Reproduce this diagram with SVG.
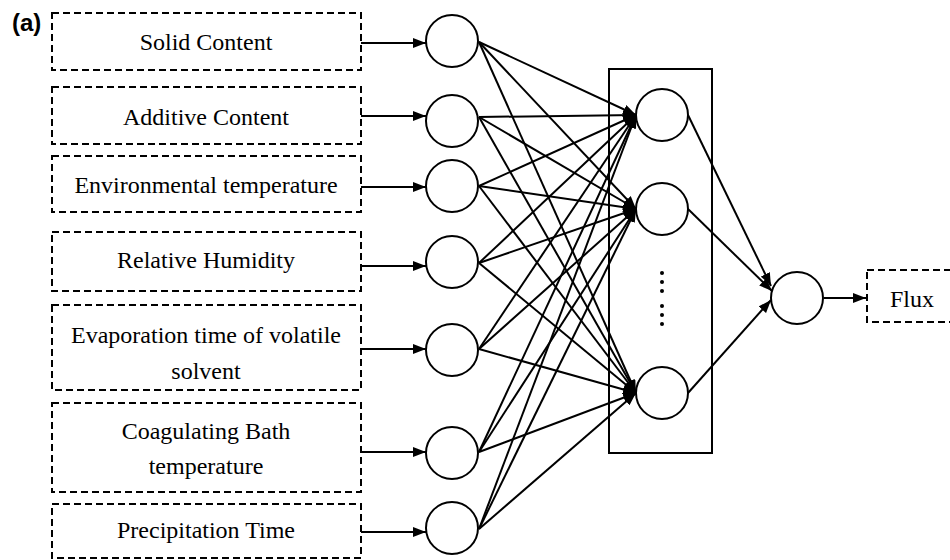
<svg xmlns="http://www.w3.org/2000/svg" width="950" height="560" viewBox="0 0 950 560">
<defs>
<marker id="ah" markerUnits="userSpaceOnUse" markerWidth="13" markerHeight="10" refX="13" refY="5" orient="auto">
<path d="M0,0 L13,5 L0,10 z" fill="#000"/>
</marker>
</defs>
<style>
.box{fill:#fff;stroke:#000;stroke-width:2;stroke-dasharray:7 4}
.nd{fill:#fff;stroke:#000;stroke-width:2}
.lbl{font-family:"Liberation Serif","Times New Roman",serif;font-size:24px;fill:#000;text-anchor:middle}
.cn line{stroke:#000;stroke-width:2;marker-end:url(#ah)}
.dot{fill:#000}
</style>
<rect width="950" height="560" fill="#fff"/>
<text x="12" y="31" font-family="Liberation Sans,Arial,sans-serif" font-weight="bold" font-size="24" fill="#000">(a)</text>

<g id="in1"><rect class="box" x="52" y="13" width="309" height="57"/><text class="lbl" x="206" y="50">Solid Content</text></g>
<g id="in2"><rect class="box" x="52" y="87" width="309" height="57"/><text class="lbl" x="206" y="125">Additive Content</text></g>
<g id="in3"><rect class="box" x="52" y="156" width="309" height="56"/><text class="lbl" x="206" y="193">Environmental temperature</text></g>
<g id="in4"><rect class="box" x="52" y="232" width="309" height="59"/><text class="lbl" x="206" y="268">Relative Humidity</text></g>
<g id="in5"><rect class="box" x="52" y="305" width="309" height="85"/><text class="lbl" x="206" y="343">Evaporation time of volatile</text><text class="lbl" x="206" y="379">solvent</text></g>
<g id="in6"><rect class="box" x="52" y="403" width="309" height="89"/><text class="lbl" x="206" y="439">Coagulating Bath</text><text class="lbl" x="206" y="474">temperature</text></g>
<g id="in7"><rect class="box" x="52" y="504" width="309" height="54"/><text class="lbl" x="206" y="538">Precipitation Time</text></g>

<g id="hiddenbox"><rect x="609" y="69" width="103" height="384" fill="none" stroke="#000" stroke-width="2"/></g>

<g id="i1"><circle class="nd" cx="452" cy="41" r="26"/></g>
<g id="i2"><circle class="nd" cx="452" cy="121" r="26"/></g>
<g id="i3"><circle class="nd" cx="452" cy="186" r="26"/></g>
<g id="i4"><circle class="nd" cx="452" cy="262" r="26"/></g>
<g id="i5"><circle class="nd" cx="452" cy="350" r="26"/></g>
<g id="i6"><circle class="nd" cx="452" cy="453" r="26"/></g>
<g id="i7"><circle class="nd" cx="452" cy="528" r="26"/></g>

<g id="h1"><circle class="nd" cx="662" cy="115" r="26"/></g>
<g id="h2"><circle class="nd" cx="662" cy="209" r="26"/></g>
<g id="h3"><circle class="nd" cx="662" cy="393" r="26"/></g>
<g id="dots">
<circle class="dot" cx="662" cy="273" r="2"/><circle class="dot" cx="662" cy="282" r="2"/><circle class="dot" cx="662" cy="291" r="2"/>
<circle class="dot" cx="662" cy="306" r="2"/><circle class="dot" cx="662" cy="315" r="2"/><circle class="dot" cx="662" cy="324" r="2"/>
</g>

<g id="out"><circle class="nd" cx="797" cy="298" r="26"/></g>
<g id="flux"><rect class="box" x="867" y="270" width="90" height="52"/><text class="lbl" x="912" y="307">Flux</text></g>

<g id="connectors" class="cn">
<line x1="361" y1="43" x2="426" y2="43"/>
<line x1="361" y1="116" x2="426" y2="116"/>
<line x1="361" y1="187" x2="426" y2="187"/>
<line x1="361" y1="266" x2="426" y2="266"/>
<line x1="361" y1="349" x2="426" y2="349"/>
<line x1="361" y1="452" x2="426" y2="452"/>
<line x1="361" y1="532" x2="426" y2="532"/>

<line x1="479" y1="42" x2="636" y2="115"/>
<line x1="479" y1="42" x2="636" y2="209"/>
<line x1="479" y1="42" x2="636" y2="393"/>
<line x1="479" y1="117" x2="636" y2="115"/>
<line x1="479" y1="117" x2="636" y2="209"/>
<line x1="479" y1="117" x2="636" y2="393"/>
<line x1="479" y1="186" x2="636" y2="115"/>
<line x1="479" y1="186" x2="636" y2="209"/>
<line x1="479" y1="186" x2="636" y2="393"/>
<line x1="479" y1="263" x2="636" y2="115"/>
<line x1="479" y1="263" x2="636" y2="209"/>
<line x1="479" y1="263" x2="636" y2="393"/>
<line x1="479" y1="349" x2="636" y2="115"/>
<line x1="479" y1="349" x2="636" y2="209"/>
<line x1="479" y1="349" x2="636" y2="393"/>
<line x1="479" y1="452" x2="636" y2="115"/>
<line x1="479" y1="452" x2="636" y2="209"/>
<line x1="479" y1="452" x2="636" y2="393"/>
<line x1="479" y1="529" x2="636" y2="115"/>
<line x1="479" y1="529" x2="636" y2="209"/>
<line x1="479" y1="529" x2="636" y2="393"/>

<line x1="688" y1="115" x2="771" y2="286"/>
<line x1="688" y1="209" x2="772" y2="291"/>
<line x1="688" y1="393" x2="771" y2="300"/>
<line x1="824" y1="298" x2="866" y2="298"/>
</g>
</svg>
